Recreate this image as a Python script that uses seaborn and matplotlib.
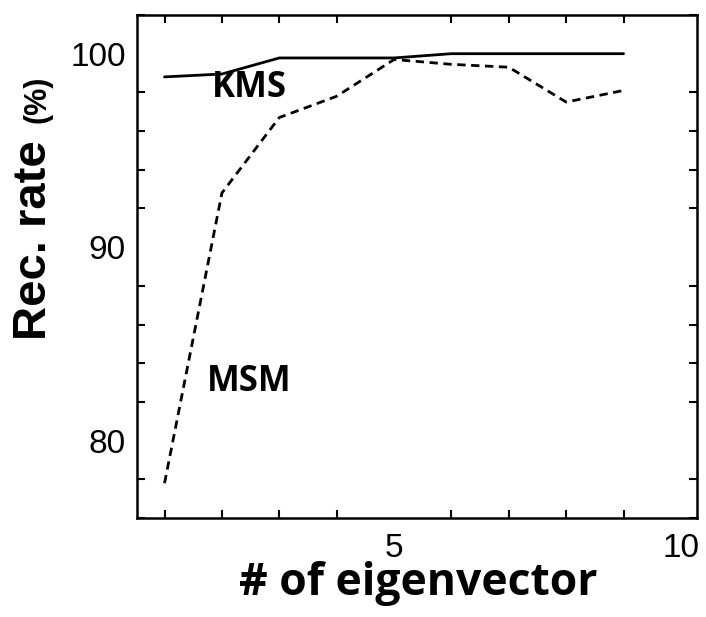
import numpy as np
import pandas as pd
import matplotlib
matplotlib.use("Agg")
import matplotlib.pyplot as plt
from matplotlib.ticker import MultipleLocator, FixedLocator
import seaborn as sns

# Recognition rate versus number of eigenvectors
n_eigen = [1, 2, 3, 4, 5, 6, 7, 8, 9]
kms_rate = [98.8, 98.95, 99.78, 99.78, 99.78, 100.0, 100.0, 100.0, 100.0]
msm_rate = [77.8, 92.8, 96.7, 97.8, 99.7, 99.45, 99.3, 97.5, 98.1]
methods = ["KMS", "MSM"]
x_ticklabels = ["5", "10"]
y_ticklabels = ["80", "90", "100"]

df = pd.DataFrame({
    "n": n_eigen * 2,
    "rate": kms_rate + msm_rate,
    "method": [methods[0]] * len(n_eigen) + [methods[1]] * len(n_eigen),
})

sns.set_style("ticks")
plt.rcParams["font.family"] = ["Liberation Sans", "DejaVu Sans"]
plt.rcParams.update({
    "text.color": "black",
    "axes.labelcolor": "black",
    "xtick.color": "black",
    "ytick.color": "black",
    "axes.edgecolor": "black",
})

fig = plt.figure(figsize=(7.06, 6.17), dpi=100)
ax = fig.add_axes([137 / 706, 1 - 518 / 617, (697 - 137) / 706, (518 - 15) / 617])

sns.lineplot(
    data=df, x="n", y="rate", hue="method", style="method",
    palette={"KMS": "black", "MSM": "black"},
    dashes={"KMS": "", "MSM": (3, 2)},
    linewidth=2.0, legend=False, ax=ax,
)

ax.set_xlim(0.52, 10.28)
ax.set_ylim(76, 102)

ax.xaxis.set_major_locator(FixedLocator([5, 10]))
ax.xaxis.set_minor_locator(MultipleLocator(1))
ax.set_xticklabels(x_ticklabels)
ax.yaxis.set_major_locator(FixedLocator([80, 90, 100]))
ax.yaxis.set_minor_locator(MultipleLocator(2))
ax.set_yticklabels(y_ticklabels)

ax.tick_params(which="both", direction="in", top=True, right=True,
               width=1.5, color="black", labelcolor="black")
ax.tick_params(which="major", length=0, labelsize=24)
ax.tick_params(which="minor", length=6)
ax.tick_params(axis="y", which="major", pad=8)
ax.tick_params(axis="x", which="major", pad=11)

for s in ax.spines.values():
    s.set_linewidth(1.8)
    s.set_color("black")

ax.set_xlabel("")
ax.set_ylabel("")

# Axis titles
fig.text(0.5 * (237 + 600) / 706, 1 - 584 / 617, "# of eigenvector",
         family=["Open Sans", "DejaVu Sans"], fontweight="bold", fontsize=32,
         ha="center", va="center", color="black")
fig.text(34 / 706, 1 - 240 / 617, "Rec. rate", family=["Liberation Sans"],
         fontweight="bold", fontsize=34, rotation=90, ha="center", va="center",
         color="black")
fig.text(37 / 706, 1 - 99 / 617, "(%)", family=["Liberation Sans"],
         fontweight="bold", fontsize=22, rotation=90, ha="center", va="center",
         color="black")

# Series labels
ax.text(2.47, 98.25, methods[0], family=["Open Sans", "DejaVu Sans"],
        fontweight="bold", fontsize=25, ha="center", va="center", color="black")
ax.text(2.47, 83.05, methods[1], family=["Open Sans", "DejaVu Sans"],
        fontweight="bold", fontsize=25, ha="center", va="center", color="black")

fig.savefig("out.png", dpi=100)
